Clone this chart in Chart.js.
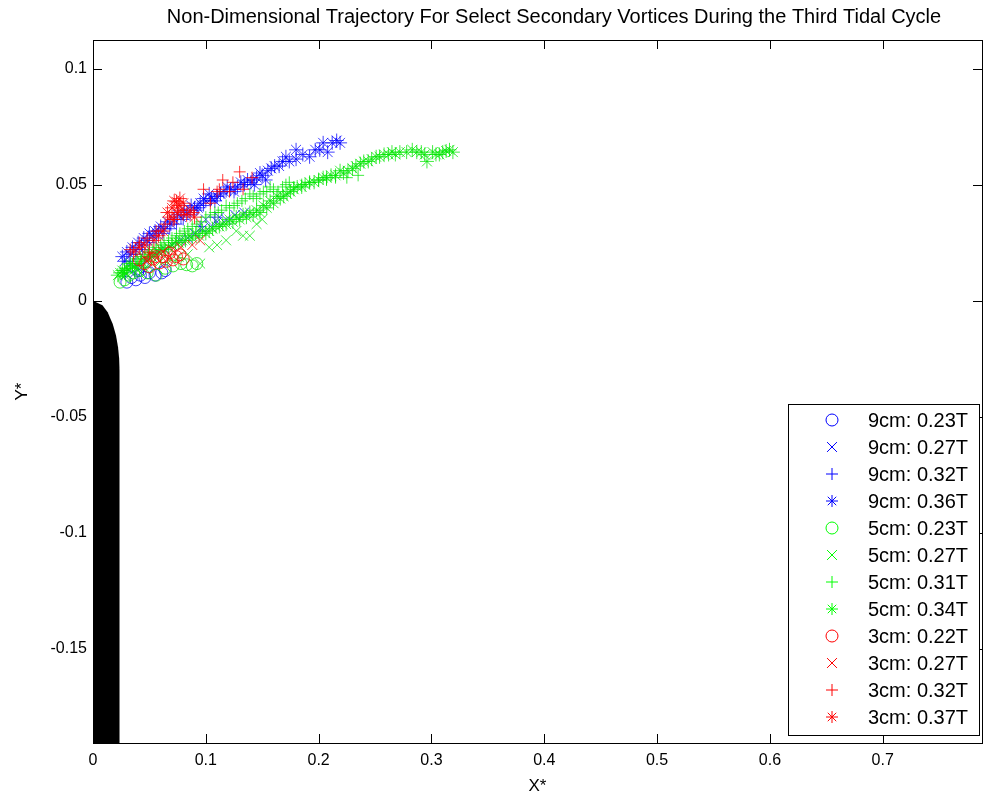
<!DOCTYPE html>
<html>
<head>
<meta charset="utf-8">
<script src="https://cdn.jsdelivr.net/npm/chart.js@4/dist/chart.umd.min.js"></script>
<style>
  html, body { margin: 0; padding: 0; background: #fff; }
  #wrap { width: 984px; height: 798px; }
</style>
</head>
<body>
<div id="wrap"><canvas id="trajChart" width="984" height="798"></canvas></div>
<script>
    "use strict";

    // tick positions on both axes
    var xTicks = [0, 0.1, 0.2, 0.3, 0.4, 0.5, 0.6, 0.7];
    var yTicks = [-0.15, -0.1, -0.05, 0, 0.05, 0.1];

    var seriesLabels = [
        "9cm: 0.23T", "9cm: 0.27T", "9cm: 0.32T", "9cm: 0.36T",
        "5cm: 0.23T", "5cm: 0.27T", "5cm: 0.31T", "5cm: 0.34T",
        "3cm: 0.22T", "3cm: 0.27T", "3cm: 0.32T", "3cm: 0.37T",
    ];

    // vortex centre positions [X*, Y*]
    var v9a = [[0.030, 0.008], [0.034, 0.010], [0.038, 0.009], [0.042, 0.011], [0.046, 0.010],
        [0.050, 0.012], [0.055, 0.011], [0.061, 0.012], [0.064, 0.013], [0.040, 0.013]];
    var v9b = [[0.040, 0.014], [0.046, 0.017], [0.052, 0.019], [0.058, 0.021], [0.064, 0.022],
        [0.070, 0.024], [0.077, 0.026], [0.084, 0.027], [0.090, 0.029], [0.097, 0.031],
        [0.104, 0.032], [0.110, 0.034], [0.118, 0.035], [0.126, 0.037], [0.134, 0.038],
        [0.100, 0.035], [0.112, 0.036]];
    var v9c = [[0.032, 0.017], [0.038, 0.020], [0.044, 0.022], [0.050, 0.025], [0.056, 0.027],
        [0.062, 0.029], [0.068, 0.031], [0.074, 0.033], [0.080, 0.035], [0.086, 0.037],
        [0.092, 0.039], [0.098, 0.041], [0.104, 0.043], [0.110, 0.045], [0.118, 0.047],
        [0.126, 0.048], [0.134, 0.050], [0.142, 0.052], [0.108, 0.036], [0.095, 0.032]];
    var v9d = [[0.026, 0.019], [0.030, 0.021], [0.035, 0.023], [0.040, 0.025], [0.045, 0.027],
        [0.050, 0.029], [0.055, 0.030], [0.060, 0.032], [0.066, 0.034], [0.072, 0.035],
        [0.078, 0.036], [0.084, 0.038], [0.090, 0.040], [0.095, 0.042], [0.100, 0.043],
        [0.105, 0.044], [0.110, 0.045], [0.116, 0.047], [0.122, 0.048], [0.128, 0.049],
        [0.134, 0.050], [0.140, 0.051], [0.145, 0.053], [0.150, 0.054], [0.155, 0.056],
        [0.161, 0.058], [0.168, 0.060], [0.174, 0.060], [0.180, 0.061], [0.180, 0.065],
        [0.192, 0.062], [0.197, 0.065], [0.204, 0.068], [0.208, 0.064], [0.212, 0.068],
        [0.216, 0.069], [0.219, 0.068],
        [0.028, 0.017], [0.033, 0.020], [0.038, 0.022], [0.043, 0.024], [0.048, 0.026],
        [0.053, 0.028], [0.058, 0.030], [0.063, 0.031], [0.069, 0.033], [0.075, 0.037],
        [0.081, 0.039], [0.087, 0.041], [0.093, 0.040], [0.098, 0.044], [0.103, 0.046],
        [0.108, 0.043], [0.113, 0.046], [0.119, 0.049], [0.125, 0.047], [0.131, 0.051],
        [0.137, 0.052], [0.143, 0.050], [0.148, 0.055], [0.153, 0.052], [0.158, 0.057],
        [0.165, 0.058], [0.171, 0.062], [0.186, 0.063], [0.201, 0.065]];

    var v5a = [[0.024, 0.008], [0.028, 0.009], [0.032, 0.011], [0.036, 0.012], [0.042, 0.013],
        [0.048, 0.012], [0.056, 0.011], [0.064, 0.014], [0.071, 0.015], [0.078, 0.016],
        [0.083, 0.0155], [0.088, 0.015], [0.092, 0.016]];
    var v5b = [[0.028, 0.011], [0.034, 0.012], [0.040, 0.013], [0.046, 0.014], [0.052, 0.016],
        [0.060, 0.017], [0.068, 0.018], [0.076, 0.019], [0.084, 0.020], [0.095, 0.016],
        [0.103, 0.023], [0.110, 0.024], [0.118, 0.026], [0.127, 0.030], [0.133, 0.028],
        [0.139, 0.028], [0.145, 0.033], [0.150, 0.035]];
    var v5c = [[0.026, 0.012], [0.030, 0.014], [0.035, 0.016], [0.042, 0.019], [0.049, 0.021],
        [0.056, 0.023], [0.063, 0.025], [0.070, 0.027], [0.077, 0.029], [0.084, 0.031],
        [0.092, 0.033], [0.100, 0.036], [0.108, 0.038], [0.114, 0.039], [0.121, 0.040],
        [0.128, 0.042], [0.135, 0.044], [0.142, 0.045], [0.148, 0.046], [0.154, 0.047],
        [0.160, 0.048], [0.168, 0.049], [0.174, 0.051], [0.185, 0.050], [0.200, 0.052],
        [0.215, 0.053], [0.235, 0.054],
        [0.028, 0.013], [0.033, 0.015], [0.039, 0.018], [0.046, 0.020], [0.053, 0.022],
        [0.060, 0.024], [0.067, 0.026], [0.074, 0.028], [0.081, 0.030], [0.088, 0.032],
        [0.096, 0.034], [0.104, 0.037], [0.111, 0.038], [0.118, 0.041], [0.125, 0.041],
        [0.132, 0.043], [0.139, 0.046], [0.145, 0.044], [0.151, 0.047], [0.157, 0.049],
        [0.164, 0.047], [0.171, 0.050], [0.178, 0.049], [0.192, 0.051], [0.207, 0.052],
        [0.225, 0.053]];
    var v5d = [[0.022, 0.011], [0.026, 0.013], [0.030, 0.014], [0.035, 0.015], [0.040, 0.016],
        [0.046, 0.018], [0.052, 0.019], [0.058, 0.021], [0.064, 0.022], [0.070, 0.024],
        [0.076, 0.025], [0.082, 0.026], [0.088, 0.027], [0.094, 0.028], [0.100, 0.029],
        [0.106, 0.031], [0.112, 0.032], [0.118, 0.033], [0.124, 0.034], [0.130, 0.035],
        [0.136, 0.036], [0.142, 0.037], [0.148, 0.038], [0.154, 0.040], [0.160, 0.042],
        [0.166, 0.044], [0.172, 0.046], [0.178, 0.048], [0.185, 0.049], [0.192, 0.051],
        [0.200, 0.052], [0.207, 0.053], [0.215, 0.054], [0.222, 0.055], [0.230, 0.057],
        [0.237, 0.059], [0.244, 0.060], [0.251, 0.062], [0.258, 0.063], [0.265, 0.064],
        [0.272, 0.064], [0.278, 0.064], [0.287, 0.064], [0.294, 0.063], [0.296, 0.060],
        [0.301, 0.064], [0.307, 0.063], [0.313, 0.0645], [0.319, 0.064],
        [0.024, 0.012], [0.028, 0.012], [0.033, 0.016], [0.038, 0.014], [0.043, 0.017],
        [0.049, 0.019], [0.055, 0.020], [0.061, 0.022], [0.067, 0.023], [0.073, 0.025],
        [0.079, 0.026], [0.085, 0.028], [0.091, 0.029], [0.097, 0.030], [0.103, 0.030],
        [0.109, 0.032], [0.115, 0.033], [0.121, 0.035], [0.127, 0.036], [0.133, 0.037],
        [0.139, 0.038], [0.145, 0.039], [0.151, 0.041], [0.157, 0.043], [0.163, 0.045],
        [0.169, 0.045], [0.175, 0.047], [0.181, 0.049], [0.188, 0.050], [0.196, 0.051],
        [0.204, 0.053], [0.211, 0.054], [0.219, 0.056], [0.226, 0.056], [0.233, 0.058],
        [0.240, 0.060], [0.247, 0.061], [0.254, 0.062], [0.262, 0.063], [0.268, 0.063],
        [0.283, 0.065], [0.291, 0.064], [0.304, 0.063], [0.310, 0.064], [0.316, 0.065]];

    var v3a = [[0.041, 0.0176], [0.046, 0.016], [0.050, 0.0146], [0.053, 0.018], [0.056, 0.019],
        [0.059, 0.0163], [0.062, 0.019], [0.065, 0.017], [0.068, 0.0206], [0.071, 0.0176],
        [0.074, 0.019], [0.077, 0.0198], [0.080, 0.018]];
    var v3b = [[0.048, 0.017], [0.055, 0.019], [0.062, 0.021], [0.070, 0.022], [0.078, 0.023],
        [0.088, 0.024], [0.095, 0.026], [0.066, 0.018]];
    var v3c = [[0.033, 0.022], [0.041, 0.025], [0.048, 0.027], [0.056, 0.030], [0.064, 0.033],
        [0.072, 0.035], [0.080, 0.037], [0.089, 0.038], [0.098, 0.048], [0.104, 0.042],
        [0.110, 0.047], [0.112, 0.048], [0.115, 0.052], [0.121, 0.047], [0.124, 0.051],
        [0.130, 0.0555], [0.133, 0.048], [0.141, 0.053]];
    var v3d = [[0.036, 0.021], [0.041, 0.023], [0.046, 0.024], [0.050, 0.0206], [0.054, 0.026],
        [0.058, 0.028], [0.062, 0.030], [0.066, 0.038], [0.068, 0.036], [0.070, 0.040],
        [0.071, 0.035], [0.072, 0.043], [0.074, 0.0426], [0.075, 0.038], [0.076, 0.041],
        [0.077, 0.044], [0.078, 0.039], [0.080, 0.042], [0.083, 0.037], [0.086, 0.039],
        [0.090, 0.036]];

    // outline of the headland (filled black)
    var wallX = [0, 0.0084, 0.0130, 0.0175, 0.0204, 0.0222, 0.0232, 0.0235, 0.0235, 0];
    var wallY = [0, -0.002, -0.005, -0.010, -0.015, -0.020, -0.025, -0.030, -0.200, -0.200];

    var seriesData = [v9a, v9b, v9c, v9d, v5a, v5b, v5c, v5d, v3a, v3b, v3c, v3d];
    var seriesColor = [
        "rgba(0,0,255,0.75)", "rgba(0,0,255,0.75)", "rgba(0,0,255,0.75)", "rgba(0,0,255,0.75)",
        "rgba(0,230,0,0.75)", "rgba(0,230,0,0.75)", "rgba(0,230,0,0.75)", "rgba(0,230,0,0.75)",
        "rgba(255,0,0,0.8)", "rgba(255,0,0,0.8)", "rgba(255,0,0,0.8)", "rgba(255,0,0,0.8)",
    ];
    var legendColor = ["#0000ff", "#0000ff", "#0000ff", "#0000ff", "#00ff00", "#00ff00",
        "#00ff00", "#00ff00", "#ff0000", "#ff0000", "#ff0000", "#ff0000"];
    var markerStyle = ["circle", "crossRot", "cross", "star"];
    var markerSize = { circle: 6, crossRot: 7, cross: 6, star: 7 };

    var FONT = "'Liberation Sans', Arial, Helvetica, sans-serif";

    var datasets = seriesData.map(function (pts, i) {
        var style = markerStyle[i % 4];
        return {
            label: seriesLabels[i],
            data: pts.map(function (p) { return { x: p[0], y: p[1] }; }),
            showLine: false,
            pointStyle: style,
            pointRadius: markerSize[style],
            pointBorderWidth: 1,
            pointBorderColor: seriesColor[i],
            pointBackgroundColor: "rgba(0,0,0,0)",
            borderColor: seriesColor[i],
            order: 12 - i,
        };
    });

    // black headland, drawn under the markers
    var wallPlugin = {
        id: "wall",
        beforeDatasetsDraw: function (chart) {
            var c = chart.ctx, a = chart.chartArea;
            var sx = chart.scales.x, sy = chart.scales.y;
            c.save();
            c.beginPath();
            c.rect(a.left, a.top, a.right - a.left, a.bottom - a.top);
            c.clip();
            c.beginPath();
            wallX.forEach(function (x, i) {
                var px = sx.getPixelForValue(x), py = sy.getPixelForValue(wallY[i]);
                if (i === 0) c.moveTo(px, py); else c.lineTo(px, py);
            });
            c.closePath();
            c.fillStyle = "#000";
            c.fill();
            c.restore();
        },
    };

    // axes box, inward ticks on all four sides, and the legend box
    var matlabAxes = {
        id: "matlabAxes",
        afterDraw: function (chart) {
            var c = chart.ctx, a = chart.chartArea;
            var sx = chart.scales.x, sy = chart.scales.y;
            var len = 9;
            c.save();
            c.strokeStyle = "#000";
            c.lineWidth = 1;
            c.beginPath();
            xTicks.forEach(function (v) {
                var px = Math.round(sx.getPixelForValue(v)) + 0.5;
                c.moveTo(px, a.bottom); c.lineTo(px, a.bottom - len);
                c.moveTo(px, a.top); c.lineTo(px, a.top + len);
            });
            yTicks.forEach(function (v) {
                var py = Math.round(sy.getPixelForValue(v)) + 0.5;
                c.moveTo(a.left, py); c.lineTo(a.left + len, py);
                c.moveTo(a.right, py); c.lineTo(a.right - len, py);
            });
            c.stroke();
            c.strokeRect(Math.round(a.left) + 0.5, Math.round(a.top) + 0.5,
                Math.round(a.right - a.left), Math.round(a.bottom - a.top));

            // legend
            var bx = 788.5, by = 404.5, bw = 191, bh = 331;
            c.fillStyle = "#fff";
            c.fillRect(bx, by, bw, bh);
            c.strokeRect(bx, by, bw, bh);
            c.font = "20px " + FONT;
            c.textBaseline = "middle";
            c.textAlign = "left";
            seriesLabels.forEach(function (lab, i) {
                var y = 420 + 27 * i;
                var style = markerStyle[i % 4];
                c.strokeStyle = legendColor[i];
                c.fillStyle = "rgba(0,0,0,0)";
                c.lineWidth = 1;
                Chart.helpers.drawPoint(c, {
                    pointStyle: style,
                    radius: style === "crossRot" ? 7 : 6,
                    rotation: 0,
                    borderWidth: 1,
                }, 832, y);
                c.fillStyle = "#000";
                c.fillText(lab, 868, y + 1);
            });

            // title
            c.font = "20px " + FONT;
            c.textAlign = "center";
            c.fillText("Non-Dimensional Trajectory For Select Secondary Vortices During the Third Tidal Cycle", 554, 17);
            c.restore();
        },
    };

    var ctx = document.getElementById("trajChart").getContext("2d");
    new Chart(ctx, {
        type: "scatter",
        data: { datasets: datasets },
        options: {
            responsive: false,
            animation: false,
            layout: { autoPadding: false, padding: { top: 40, right: 2, left: 0, bottom: 0 } },
            plugins: {
                legend: { display: false },
                tooltip: { enabled: false },
                title: { display: false },
            },
            scales: {
                x: {
                    type: "linear",
                    min: 0,
                    max: 0.788,
                    grid: { display: false, drawTicks: false },
                    border: { display: false },
                    ticks: {
                        stepSize: 0.1,
                        includeBounds: false,
                        padding: 8,
                        color: "#000",
                        maxRotation: 0,
                        font: { family: FONT, size: 16 },
                        callback: function (v) { return String(parseFloat(v.toFixed(2))); },
                    },
                    title: {
                        display: true,
                        text: "X*",
                        color: "#000",
                        font: { family: FONT, size: 17 },
                        padding: { top: 0, bottom: 1 },
                    },
                    afterFit: function (s) {
                        s.height = 55;
                        s.paddingLeft = 0;
                        s.paddingRight = 0;
                    },
                },
                y: {
                    type: "linear",
                    min: -0.1905,
                    max: 0.1123,
                    grid: { display: false, drawTicks: false },
                    border: { display: false },
                    ticks: {
                        stepSize: 0.05,
                        includeBounds: false,
                        padding: 6,
                        color: "#000",
                        font: { family: FONT, size: 16 },
                        callback: function (v) { return String(parseFloat(v.toFixed(2))); },
                    },
                    title: {
                        display: true,
                        text: "Y*",
                        color: "#000",
                        font: { family: FONT, size: 17 },
                        padding: { top: 12, bottom: 0 },
                    },
                    afterFit: function (s) { s.width = 93; },
                },
            },
        },
        plugins: [wallPlugin, matlabAxes],
    });
</script>
</body>
</html>
